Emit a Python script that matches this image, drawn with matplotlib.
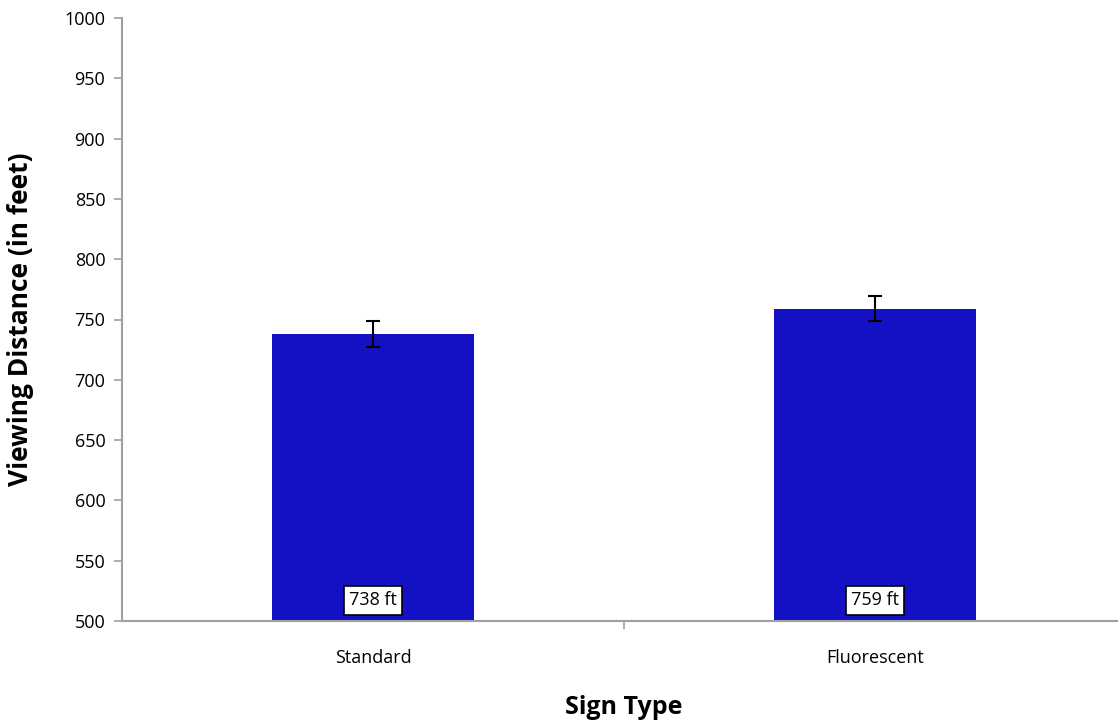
import matplotlib.pyplot as plt
import numpy as np

categories = ['Standard', 'Fluorescent']
values = [738, 759]
errors = [11, 10.5]
labels = ['738 ft', '759 ft']

plt.rcParams['font.family'] = ['Open Sans', 'DejaVu Sans']

fig = plt.figure(figsize=(11.18, 7.21), dpi=100)
ax = fig.add_axes([122/1118, 1-621/721, 1004/1118, (621-18)/721])

x = np.arange(len(categories))
ax.bar(x, values, width=0.402, color='#1410C4', zorder=2)
ax.errorbar(x, values, yerr=errors, fmt='none', ecolor='black',
            elinewidth=1.5, capsize=5, capthick=1.5, zorder=3)

for xi, lab in zip(x, labels):
    ax.text(xi, 517, lab, ha='center', va='center', fontsize=13,
            bbox=dict(boxstyle='square,pad=0.3', fc='white', ec='black', lw=1.2),
            zorder=4)

ax.set_xlim(-0.5, 1.5)
ax.set_ylim(500, 1000)
ax.set_yticks(np.arange(500, 1001, 50))
ax.set_xticks([0.5])
ax.set_xticklabels([''])
ax.set_xticks(x, minor=True)
ax.set_xticklabels(categories, minor=True, fontsize=13)
ax.tick_params(axis='x', which='minor', length=0, pad=20)
ax.tick_params(axis='x', which='major', length=6, color='#A0A0A0', width=1.2)
ax.tick_params(axis='y', length=6, color='#A0A0A0', width=1.2, labelsize=13, pad=6)

for s in ['top', 'right']:
    ax.spines[s].set_visible(False)
for s in ['left', 'bottom']:
    ax.spines[s].set_color('#A0A0A0')
    ax.spines[s].set_linewidth(1.5)

ax.set_xlabel('Sign Type', fontsize=18, fontweight='bold', labelpad=20)
ax.set_ylabel('Viewing Distance (in feet)', fontsize=19, fontweight='bold', labelpad=22)

fig.savefig('out.png', dpi=100)
